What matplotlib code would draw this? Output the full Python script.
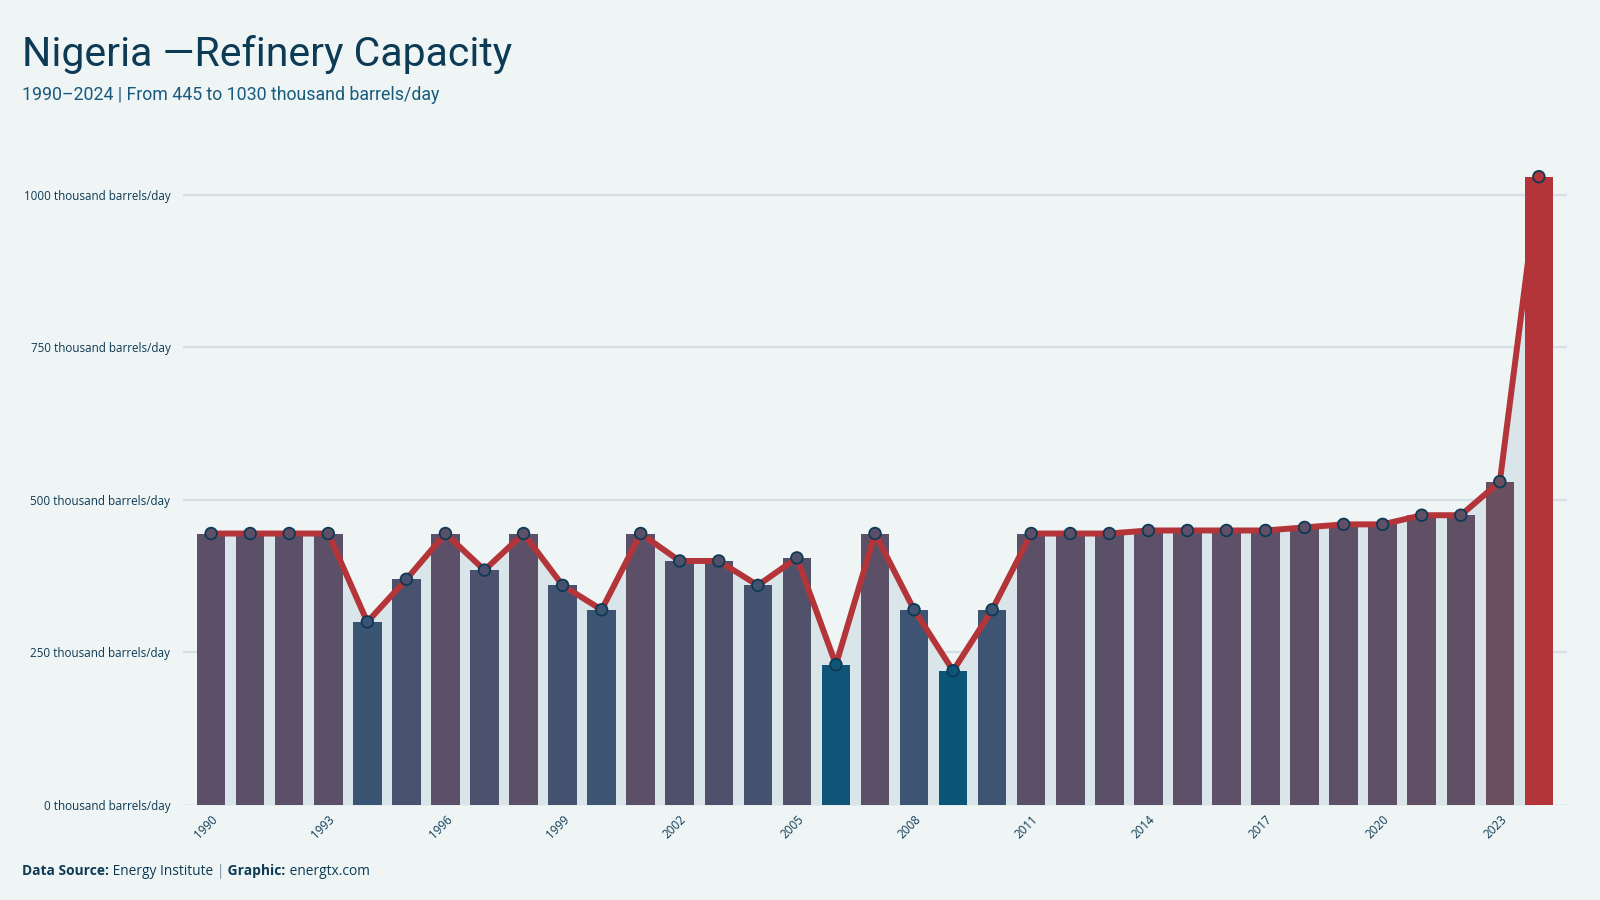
import numpy as np
import matplotlib
matplotlib.use("Agg")
import matplotlib.pyplot as plt
from matplotlib.colors import LinearSegmentedColormap

# ─── data ───
years = list(range(1990, 2025))
capacity = [445, 445, 445, 445, 300, 370, 445, 385, 445, 360,
            320, 445, 400, 400, 360, 405, 230, 445, 320, 220,
            320, 445, 445, 445, 450, 450, 450, 450, 455, 460,
            460, 475, 475, 530, 1030]
y_ticks = [0, 250, 500, 750, 1000]
x_ticks = list(range(1990, 2024, 3))

title = "Nigeria \u2014Refinery Capacity"
subtitle = "1990\u20132024 | From 445 to 1030 thousand barrels/day"

BG = "#eff5f5"
NAVY = "#0d3a55"
RED = "#b33539"
AREA = "#dae5e9"
GRID = "#d5e0e4"

# colour ramp blue -> muted purple -> red, driven by value
vmin, vmax = min(capacity), max(capacity)
def _pos(v):
    return (v - vmin) / (vmax - vmin)
cmap = LinearSegmentedColormap.from_list("cap", [
    (0.0, "#0a5578"),
    (_pos(300), "#3a5573"),
    (_pos(360), "#45526f"),
    (_pos(445), "#5c5068"),
    (_pos(530), "#6b4f5e"),
    (1.0, RED),
])
bar_colors = [cmap(_pos(v)) for v in capacity]

fig = plt.figure(figsize=(16, 9), dpi=100, facecolor=BG)
ax = fig.add_axes([183 / 1600, 0.1056, (1567 - 183) / 1600, 0.7184])
ax.set_facecolor(BG)

ax.fill_between(years, capacity, 0, color=AREA, zorder=1, linewidth=0)
ax.bar(years, capacity, width=0.73, color=bar_colors, zorder=2)
ax.plot(years, capacity, color=RED, linewidth=4.3, zorder=3,
        solid_joinstyle="round")
ax.scatter(years, capacity, s=70, c=bar_colors, edgecolors=NAVY,
           linewidths=1.3, zorder=4)

ax.set_xlim(1989.28, 2024.72)
ax.set_ylim(0, 1060)
ax.set_yticks(y_ticks)
ax.set_yticklabels([f"{v} thousand barrels/day" for v in y_ticks],
                   fontsize=8.4, color=NAVY, family=["Open Sans", "DejaVu Sans"])
ax.set_xticks(x_ticks)
ax.set_xticklabels([str(x) for x in x_ticks], rotation=45, ha="right",
                   va="top", rotation_mode="anchor", fontsize=8.4,
                   color=NAVY, family=["Open Sans", "DejaVu Sans"])
ax.tick_params(axis="both", length=0, pad=6)
ax.tick_params(axis="y", pad=9)

for v in y_ticks[1:]:
    ax.axhline(v, color=GRID, linewidth=1.6, zorder=0)
ax.axhline(0, color=GRID, linewidth=1.2, linestyle=(0, (1, 1)), zorder=0)
for s in ax.spines.values():
    s.set_visible(False)

# title block
fig.text(22 / 1600, 1 - 66 / 900, title, fontsize=29.5, color=NAVY,
         family=["Liberation Sans Narrow", "Roboto", "DejaVu Sans"],
         ha="left", va="baseline")
fig.text(22 / 1600, 1 - 100 / 900, subtitle, fontsize=12.8, color="#185a7d",
         family=["Liberation Sans Narrow", "Roboto", "DejaVu Sans"],
         ha="left", va="baseline")

# footer built piece by piece
renderer = fig.canvas.get_renderer()
pieces = [("Data Source:", "bold", NAVY), (" Energy Institute ", "normal", NAVY),
          ("|", "normal", "#6a8797"), (" Graphic:", "bold", NAVY),
          (" energtx.com", "normal", NAVY)]
x = 22
for txt, weight, col in pieces:
    t = fig.text(x / 1600, 1 - 875 / 900, txt, fontsize=9.9, color=col,
                 fontweight=weight, family=["Open Sans", "DejaVu Sans"],
                 ha="left", va="baseline")
    x += t.get_window_extent(renderer).width

fig.savefig("out.png", dpi=100, facecolor=BG)
